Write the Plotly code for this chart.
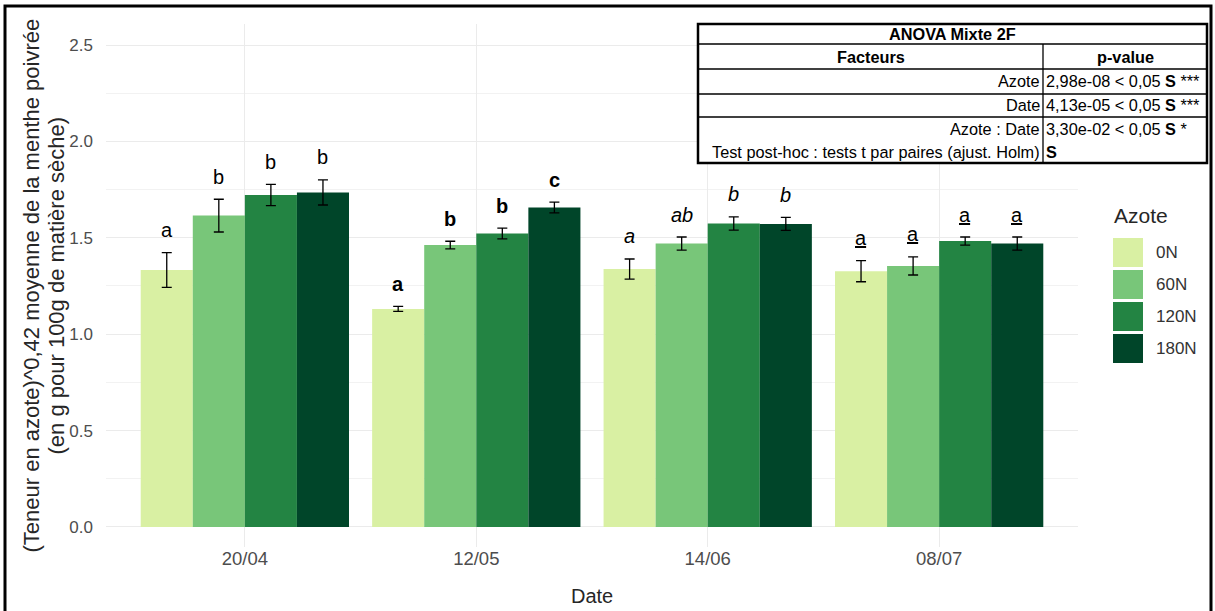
import plotly.graph_objects as go

# ---------------- data ----------------
dates = ["20/04", "12/05", "14/06", "08/07"]
azote_levels = ["0N", "60N", "120N", "180N"]
colors = ["#d9f0a3", "#78c679", "#238443", "#004529"]

mean_0N = [1.333, 1.131, 1.338, 1.327]
mean_60N = [1.615, 1.462, 1.470, 1.354]
mean_120N = [1.722, 1.522, 1.574, 1.483]
mean_180N = [1.735, 1.657, 1.572, 1.470]

se_0N = [0.090, 0.013, 0.052, 0.055]
se_60N = [0.085, 0.020, 0.034, 0.047]
se_120N = [0.055, 0.028, 0.034, 0.021]
se_180N = [0.065, 0.028, 0.034, 0.034]

letters_0N = ["a", "a", "a", "a"]
letters_60N = ["b", "b", "ab", "a"]
letters_120N = ["b", "b", "b", "a"]
letters_180N = ["b", "c", "b", "a"]
letter_styles = ["plain", "bold", "italic", "underline"]

y_ticks = [0.0, 0.5, 1.0, 1.5, 2.0, 2.5]

y_title_lines = ["(Teneur en azote)^0,42 moyenne de la menthe poivrée",
                 "(en g pour 100g de matière sèche)"]
x_title = "Date"
legend_title = "Azote"

table_title = "ANOVA Mixte 2F"
table_header = ["Facteurs", "p-value"]
table_factors = ["Azote", "Date", "Azote : Date", "Test post-hoc : tests t par paires (ajust. Holm)"]
table_pvalues = ["2,98e-08 < 0,05 <b>S</b> ***", "4,13e-05 < 0,05 <b>S</b> ***",
                 "3,30e-02 < 0,05 <b>S</b> *", "<b>S</b>"]

means = [mean_0N, mean_60N, mean_120N, mean_180N]
ses = [se_0N, se_60N, se_120N, se_180N]
letters = [letters_0N, letters_60N, letters_120N, letters_180N]

# ---------------- layout geometry ----------------
FIG_W, FIG_H = 1215, 611
L, R, T, B = 106, 1078, 24, 547
PW, PH = R - L, B - T
YMIN, YMAX = -0.104, 2.609
XMIN, XMAX = -0.6, 3.6
FONT = "Arial, Liberation Sans, sans-serif"


def px_x(px):
    return (px - L) / PW


def px_y(py):
    return (B - py) / PH


cat_px = PW / (XMAX - XMIN)
bar_px = cat_px * 0.9 / len(azote_levels)
unit_px = PH / (YMAX - YMIN)

fig = go.Figure()
for i, lvl in enumerate(azote_levels):
    fig.add_trace(go.Bar(
        x=dates, y=means[i], name=lvl, marker_color=colors[i],
        marker_line_width=0,
        error_y=dict(type="data", array=ses[i], visible=True,
                     color="black", thickness=1.3, width=5),
        showlegend=False,
    ))

annotations = []
# significance letters
for i in range(len(azote_levels)):
    for j, d in enumerate(dates):
        t = letters[i][j]
        st = letter_styles[j]
        if st == "bold":
            t = "<b>%s</b>" % t
        elif st == "italic":
            t = "<i>%s</i>" % t
        elif st == "underline":
            t = "<u>%s</u>" % t
        annotations.append(dict(
            x=d, y=means[i][j] + ses[i][j] + 22.5 / unit_px, xref="x", yref="y",
            text=t, showarrow=False, xanchor="center", yanchor="middle",
            xshift=(i - 1.5) * bar_px,
            font=dict(family=FONT, size=20, color="black"),
        ))

# y-axis title (two lines, placed separately for tighter spacing)
for k, xpos in enumerate([31, 56]):
    annotations.append(dict(
        x=px_x(xpos), y=0.5, xref="paper", yref="paper", textangle=-90,
        text=y_title_lines[k], showarrow=False, xanchor="center", yanchor="middle",
        font=dict(family=FONT, size=22, color="#262626"),
    ))
# x-axis title
annotations.append(dict(
    x=0.5, y=px_y(596), xref="paper", yref="paper", text=x_title,
    showarrow=False, xanchor="center", yanchor="middle",
    font=dict(family=FONT, size=20, color="#262626"),
))

shapes = []
# legend (manual, ggplot-style big keys)
annotations.append(dict(
    x=px_x(1112), y=px_y(216), xref="paper", yref="paper", text=legend_title,
    showarrow=False, xanchor="left", yanchor="middle",
    font=dict(family=FONT, size=21, color="#262626"),
))
for i, lvl in enumerate(azote_levels):
    top = 238 + i * 32
    shapes.append(dict(type="rect", xref="paper", yref="paper",
                       x0=px_x(1113), x1=px_x(1143), y0=px_y(top), y1=px_y(top + 29),
                       fillcolor=colors[i], line=dict(width=0)))
    annotations.append(dict(
        x=px_x(1154), y=px_y(top + 14.5), xref="paper", yref="paper", text=lvl,
        showarrow=False, xanchor="left", yanchor="middle",
        font=dict(family=FONT, size=17, color="#333333"),
    ))

# ANOVA table
TX0, TX1, TY0, TY1 = 698, 1207, 24, 163
TCOL = 1043
row_lines = [44, 69, 94, 117]
shapes.append(dict(type="rect", xref="paper", yref="paper",
                   x0=px_x(TX0), x1=px_x(TX1), y0=px_y(TY0), y1=px_y(TY1),
                   fillcolor="white", line=dict(color="black", width=2.5), layer="above"))
for ry in row_lines:
    shapes.append(dict(type="line", xref="paper", yref="paper",
                       x0=px_x(TX0), x1=px_x(TX1), y0=px_y(ry), y1=px_y(ry),
                       line=dict(color="black", width=1.3), layer="above"))
shapes.append(dict(type="line", xref="paper", yref="paper",
                   x0=px_x(TCOL), x1=px_x(TCOL), y0=px_y(44), y1=px_y(TY1),
                   line=dict(color="black", width=1.3), layer="above"))

TFS = 16.3
annotations.append(dict(x=px_x((TX0 + TX1) / 2), y=px_y(34), xref="paper", yref="paper",
                        text="<b>%s</b>" % table_title, showarrow=False,
                        xanchor="center", yanchor="middle", borderpad=0,
                        font=dict(family=FONT, size=TFS, color="black")))
annotations.append(dict(x=px_x((TX0 + TCOL) / 2), y=px_y(57), xref="paper", yref="paper",
                        text="<b>%s</b>" % table_header[0], showarrow=False,
                        xanchor="center", yanchor="middle", borderpad=0,
                        font=dict(family=FONT, size=TFS, color="black")))
annotations.append(dict(x=px_x((TCOL + TX1) / 2), y=px_y(57), xref="paper", yref="paper",
                        text="<b>%s</b>" % table_header[1], showarrow=False,
                        xanchor="center", yanchor="middle", borderpad=0,
                        font=dict(family=FONT, size=TFS, color="black")))
row_centers = [81, 105, 129, 152]
for k in range(len(table_factors)):
    annotations.append(dict(x=px_x(TCOL - 2), y=px_y(row_centers[k]), xref="paper", yref="paper",
                            text=table_factors[k], showarrow=False,
                            xanchor="right", yanchor="middle", borderpad=0,
                            font=dict(family=FONT, size=TFS, color="black")))
    annotations.append(dict(x=px_x(TCOL + 2), y=px_y(row_centers[k]), xref="paper", yref="paper",
                            text=table_pvalues[k], showarrow=False,
                            xanchor="left", yanchor="middle", borderpad=0,
                            font=dict(family=FONT, size=TFS, color="black")))

# outer frame
shapes.append(dict(type="rect", xref="paper", yref="paper",
                   x0=px_x(5), x1=px_x(1211), y0=px_y(6), y1=px_y(650),
                   fillcolor="rgba(0,0,0,0)", line=dict(color="black", width=3), layer="above"))

fig.update_layout(
    width=FIG_W, height=FIG_H,
    margin=dict(l=L, r=FIG_W - R, t=T, b=FIG_H - B, pad=0),
    paper_bgcolor="white", plot_bgcolor="white",
    barmode="group", bargap=0.1, bargroupgap=0,
    font=dict(family=FONT),
    showlegend=False,
    annotations=annotations, shapes=shapes,
    xaxis=dict(
        type="category", range=[XMIN, XMAX], categoryorder="array", categoryarray=dates,
        showgrid=True, gridcolor="#ebebeb", gridwidth=1, zeroline=False, showline=False,
        ticks="", ticklabelstandoff=-2,
        tickfont=dict(family=FONT, size=18.5, color="#4d4d4d"),
    ),
    yaxis=dict(
        range=[YMIN, YMAX], tickvals=y_ticks, tickformat=".1f",
        showgrid=True, gridcolor="#ebebeb", gridwidth=1, zeroline=False, showline=False,
        minor=dict(dtick=0.25, tick0=0, showgrid=True, gridcolor="#f2f2f2", gridwidth=0.6),
        ticks="", ticklabelstandoff=12,
        tickfont=dict(family=FONT, size=17, color="#4d4d4d"),
    ),
)

fig.write_html("out.html", config={"displayModeBar": False},
               post_script="document.body.style.margin='0px';document.body.style.overflow='hidden';")
